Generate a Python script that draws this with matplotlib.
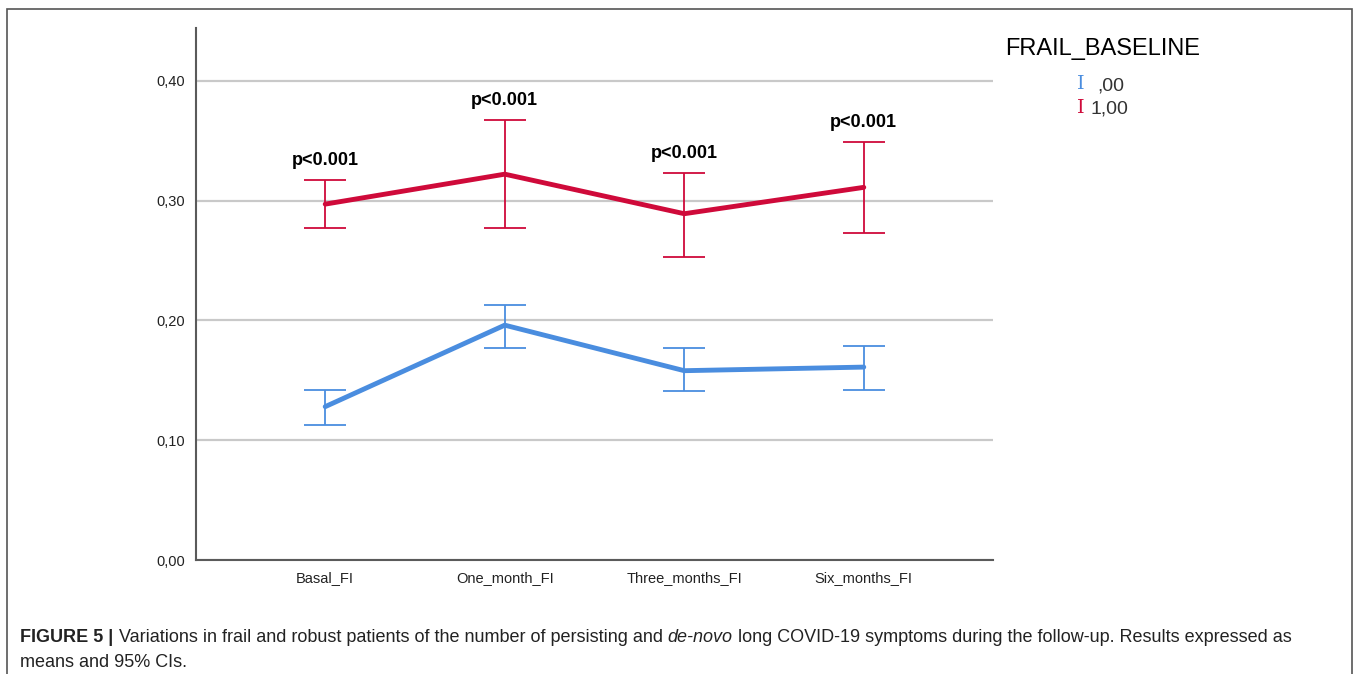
import matplotlib.pyplot as plt
from matplotlib.patches import Rectangle

plt.rcParams['font.family'] = ['Liberation Sans', 'DejaVu Sans']

# Frailty index means and 95% CI limits per visit
visits = ['Basal_FI', 'One_month_FI', 'Three_months_FI', 'Six_months_FI']
robust_mean = [0.128, 0.196, 0.158, 0.161]
robust_low = [0.113, 0.177, 0.141, 0.142]
robust_high = [0.142, 0.213, 0.177, 0.179]
frail_mean = [0.297, 0.322, 0.289, 0.311]
frail_low = [0.277, 0.277, 0.253, 0.273]
frail_high = [0.317, 0.367, 0.323, 0.349]
p_labels = ['p<0.001', 'p<0.001', 'p<0.001', 'p<0.001']
y_ticks = [0.0, 0.1, 0.2, 0.3, 0.4]

blue = '#4a8ddf'
red = '#cf0a3a'

fig = plt.figure(figsize=(13.57, 6.74), dpi=100)
ax = fig.add_axes([0.1444, 0.1691, 0.5874, 0.7894])

x = list(range(len(visits)))

for mean, low, high, col in [(robust_mean, robust_low, robust_high, blue),
                             (frail_mean, frail_low, frail_high, red)]:
    err = [[m - l for m, l in zip(mean, low)], [h - m for m, h in zip(mean, high)]]
    ax.plot(x, mean, color=col, lw=3.5, solid_capstyle='round', zorder=3)
    ax.errorbar(x, mean, yerr=err, fmt='none', ecolor=col, elinewidth=1.3,
                capsize=15, capthick=1.3, zorder=3)

for xi, hi, lab in zip(x, frail_high, p_labels):
    ax.annotate(lab, (xi, hi), xytext=(0, 8), textcoords='offset points',
                ha='center', va='bottom', fontsize=13, fontweight='bold')

ax.set_xlim(-0.72, 3.72)
ax.set_ylim(0, 0.444)
ax.set_xticks(x)
ax.set_xticklabels(visits)
ax.set_yticks(y_ticks)
ax.set_yticklabels([f'{v:.2f}'.replace('.', ',') for v in y_ticks])
ax.tick_params(length=0, labelsize=10.5, colors='#222222', pad=8)
ax.grid(axis='y', color='#c9c9c9', lw=1.6)
ax.set_axisbelow(True)
for side in ['top', 'right']:
    ax.spines[side].set_visible(False)
for side in ['left', 'bottom']:
    ax.spines[side].set_color('#5a5a5a')
    ax.spines[side].set_linewidth(1.5)

# legend drawn as text to mimic the SPSS "I" swatches
fig.text(1005 / 1357, 1 - 49 / 674, 'FRAIL_BASELINE', fontsize=17, va='center')
fig.text(1077 / 1357, 1 - 84 / 674, 'I', color=blue, fontsize=14, va='center', family='DejaVu Serif')
fig.text(1097 / 1357, 1 - 86 / 674, ',00', color='#333333', fontsize=14, va='center')
fig.text(1077 / 1357, 1 - 108 / 674, 'I', color=red, fontsize=14, va='center', family='DejaVu Serif')
fig.text(1091 / 1357, 1 - 109 / 674, '1,00', color='#333333', fontsize=14, va='center')

# outer frame
fig.patches.append(Rectangle((7 / 1357, -0.1), 1345 / 1357, 1.1 - 9 / 674,
                             transform=fig.transFigure, fill=False,
                             edgecolor='#555555', lw=1.2))

# caption, pieced together so "de-novo" can be italic
cap_y1 = 1 - 642 / 674
cap_y2 = 1 - 667 / 674
cap_kw = dict(fontsize=13, va='baseline', color='#222222')
t = fig.text(20 / 1357, cap_y1, 'FIGURE 5 |', fontweight='bold', **cap_kw)
fig.canvas.draw()
xpos = t.get_window_extent().x1 / fig.bbox.width + 0.004
for chunk, style in [('Variations in frail and robust patients of the number of persisting and ', 'normal'),
                     ('de-novo', 'italic'),
                     (' long COVID-19 symptoms during the follow-up. Results expressed as', 'normal')]:
    tt = fig.text(xpos, cap_y1, chunk, style=style, **cap_kw)
    fig.canvas.draw()
    xpos = tt.get_window_extent().x1 / fig.bbox.width
fig.text(20 / 1357, cap_y2, 'means and 95% CIs.', **cap_kw)

fig.savefig('out.png', dpi=100)
